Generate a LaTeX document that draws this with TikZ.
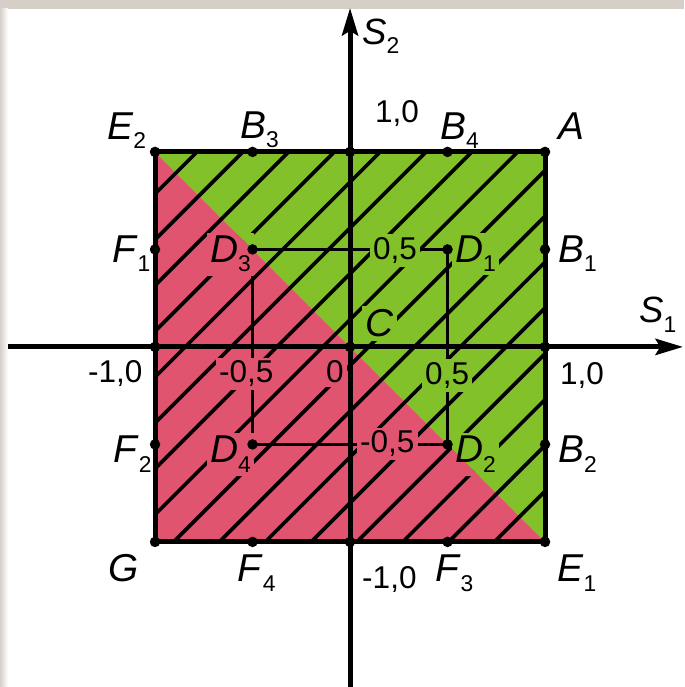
\documentclass[tikz,border=0pt]{standalone}
\usepackage{fontspec}
\setmainfont{Liberation Sans}
\usepackage{tikz}
\usetikzlibrary{arrows.meta,backgrounds}
\definecolor{regred}{HTML}{E15470}
\definecolor{reggreen}{HTML}{83C12A}
\definecolor{framegray}{HTML}{D6CFC7}
\newcommand{\ptlbl}[2]{\textit{#1\/}\raisebox{-4pt}{\fontsize{10}{10}\selectfont #2}}

\begin{document}
\begin{tikzpicture}[x=3cm, y=3cm,
  lbl/.style={anchor=base west, inner sep=1.5pt, outer sep=0pt, font=\fontsize{17}{17}\selectfont},
  num/.style={anchor=base west, inner sep=1.5pt, outer sep=0pt, font=\fontsize{13.8}{13.8}\selectfont},
  axlbl/.style={anchor=base west, inner sep=1.5pt, outer sep=0pt, font=\fontsize{16}{16}\selectfont},
  axis/.style={line width=2.2pt, -{Stealth[length=12pt, width=7pt, inset=2pt]}},
  edge/.style={line width=2.2pt},
  inner/.style={line width=1.4pt},
  hatch/.style={line width=1.6pt}
]
\useasboundingbox (-1.795,-1.744) rectangle (1.713,1.779);

% points of the square
\coordinate (A) at (1,1);
\coordinate (B4) at (0.5,1);
\coordinate (T) at (0,1);
\coordinate (B3) at (-0.5,1);
\coordinate (E2) at (-1,1);
\coordinate (F1) at (-1,0.5);
\coordinate (L) at (-1,0);
\coordinate (F2) at (-1,-0.5);
\coordinate (G) at (-1,-1);
\coordinate (F4) at (-0.5,-1);
\coordinate (Bt) at (0,-1);
\coordinate (F3) at (0.5,-1);
\coordinate (E1) at (1,-1);
\coordinate (B2) at (1,-0.5);
\coordinate (R) at (1,0);
\coordinate (B1) at (1,0.5);
\coordinate (C) at (0,0);
\coordinate (D1) at (0.5,0.5);
\coordinate (D2) at (0.5,-0.5);
\coordinate (D3) at (-0.5,0.5);
\coordinate (D4) at (-0.5,-0.5);

% axis ends
\coordinate (xl) at (-1.755,0);
\coordinate (xr) at (1.708,0);
\coordinate (yb) at (0,-1.75);
\coordinate (yt) at (0,1.738);

% axes
\draw[axis] (xl) -- (xr);
\draw[axis] (yb) -- (yt);

% outer square
\draw[edge] (E2) -- (A) -- (E1) -- (G) -- cycle;

% points
\foreach \p in {A,B4,T,B3,E2,F1,L,F2,G,F4,Bt,F3,E1,B2,R,B1,C,D1,D2,D3,D4}
  \fill (\p) circle (2.3pt);

% labels
\node[axlbl] (lS1) at (1.465,0.123) {\ptlbl{S}{1}};
\node[axlbl] (lS2) at (0.045,1.549) {\ptlbl{S}{2}};
\node[lbl] (lE2) at (-1.263,1.062) {\ptlbl{E}{2}};
\node[lbl] (lB3) at (-0.581,1.067) {\ptlbl{B}{3}};
\node[num] (lyt) at (0.111,1.149) {1,0};
\node[lbl] (lB4) at (0.445,1.062) {\ptlbl{B}{4}};
\node[lbl] (lA) at (1.050,1.062) {\textit{A}};
\node[lbl] (lF1) at (-1.238,0.431) {\ptlbl{F}{1}};
\node[lbl] (lD3) at (-0.735,0.431) {\ptlbl{D}{3}};
\node[num] (lyp) at (0.101,0.446) {0,5};
\node[lbl] (lD1) at (0.521,0.431) {\ptlbl{D}{1}};
\node[lbl] (lB1) at (1.050,0.431) {\ptlbl{B}{1}};
\node[lbl] (lC) at (0.060,0.051) {\textit{C}};
\node[num] (lxl) at (-1.361,-0.185) {-1,0};
\node[num] (lxm) at (-0.689,-0.185) {-0,5};
\node[num] (lO) at (-0.140,-0.185) {0};
\node[num] (lxp) at (0.368,-0.195) {0,5};
\node[num] (lxr) at (1.060,-0.195) {1,0};
\node[lbl] (lF2) at (-1.232,-0.595) {\ptlbl{F}{2}};
\node[lbl] (lD4) at (-0.735,-0.595) {\ptlbl{D}{4}};
\node[num] (lym) at (0.034,-0.544) {-0,5};
\node[lbl] (lD2) at (0.521,-0.595) {\ptlbl{D}{2}};
\node[lbl] (lB2) at (1.050,-0.595) {\ptlbl{B}{2}};
\node[lbl] (lG) at (-1.258,-1.205) {\textit{G}};
\node[lbl] (lF4) at (-0.596,-1.205) {\ptlbl{F}{4}};
\node[num] (lyb) at (0.045,-1.240) {-1,0};
\node[lbl] (lF3) at (0.419,-1.205) {\ptlbl{F}{3}};
\node[lbl] (lE1) at (1.045,-1.205) {\ptlbl{E}{1}};

\begin{scope}[on background layer]
  % frame of the screenshot
  \fill[framegray] (-1.795,1.735) rectangle (1.713,1.779);
  \shade[left color=framegray, right color=white] (-1.795,-1.744) rectangle (-1.754,1.735);

  % regions
  \fill[reggreen] (E2) -- (A) -- (E1) -- cycle;
  \fill[regred] (E2) -- (G) -- (E1) -- cycle;

  % hatching
  \begin{scope}
    \clip (E2) rectangle (E1);
    \foreach \k in {-9,...,7}
      \draw[hatch] (-2,{-2+0.14+0.235*\k}) -- (2,{2+0.14+0.235*\k});
  \end{scope}

  % inner square
  \draw[inner] (D3) -- (D1) -- (D2) -- (D4) -- cycle;

  % gaps behind the labels
  \foreach \n in {lD1,lD2,lD3,lD4,lC,lO,lxp,lxm,lyp,lym} {
    \begin{scope}
      \clip (E2) -- (A) -- (E1) -- cycle;
      \fill[reggreen] (\n.south west) rectangle (\n.north east);
    \end{scope}
    \begin{scope}
      \clip (E2) -- (G) -- (E1) -- cycle;
      \fill[regred] (\n.south west) rectangle (\n.north east);
    \end{scope}
  }
\end{scope}

\end{tikzpicture}
\end{document}
